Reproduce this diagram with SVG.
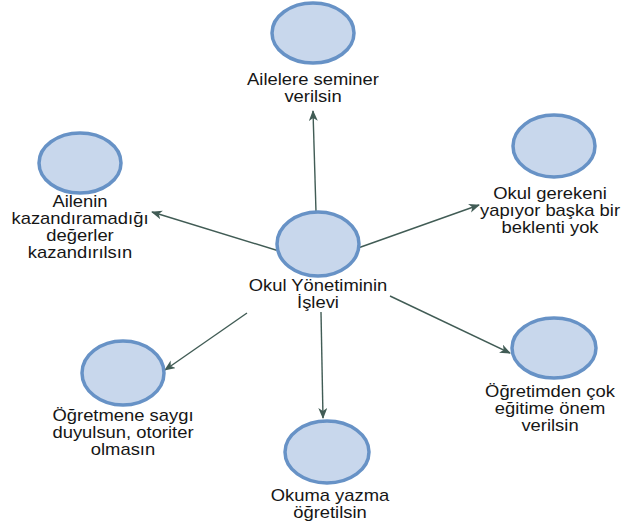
<svg xmlns="http://www.w3.org/2000/svg" width="624" height="526" viewBox="0 0 624 526">
<style>
.n{fill:#c8d7ec;stroke:#6792c6;stroke-width:3.5}
.t{font-family:"Liberation Sans",Arial,sans-serif;font-size:16px;fill:#161616;text-anchor:middle}
.c{stroke:#415c55;stroke-width:1.4;fill:none;marker-end:url(#ah)}
</style>
<defs>
<marker id="ah" markerUnits="userSpaceOnUse" markerWidth="12" markerHeight="10" refX="10" refY="4.5" orient="auto">
<path d="M0,0 L11,4.5 L0,9 L3,4.5 z" fill="#415c55"/>
</marker>
</defs>
<rect width="624" height="526" fill="#ffffff"/>
<g id="connectors">
<line class="c" x1="316" y1="212" x2="313" y2="111"/>
<line class="c" x1="279" y1="251" x2="152" y2="212"/>
<line class="c" x1="358" y1="248" x2="479" y2="205"/>
<line class="c" x1="247" y1="313" x2="165" y2="370"/>
<line class="c" x1="390" y1="296" x2="510" y2="353"/>
<line class="c" x1="321" y1="312" x2="323" y2="418"/>
</g>
<g id="center">
<ellipse class="n" cx="318" cy="244" rx="41" ry="32"/>
<g transform="translate(318,0) scale(1.15,1)"><text class="t" x="0" y="291">Okul Yönetiminin</text><text class="t" x="0" y="308">İşlevi</text></g>
</g>
<g id="top">
<ellipse class="n" cx="313" cy="33" rx="41" ry="30"/>
<g transform="translate(313,0) scale(1.15,1)"><text class="t" x="0" y="85">Ailelere seminer</text><text class="t" x="0" y="102">verilsin</text></g>
</g>
<g id="left">
<ellipse class="n" cx="80" cy="163" rx="41" ry="30"/>
<g transform="translate(80,0) scale(1.15,1)"><text class="t" x="0" y="207">Ailenin</text><text class="t" x="0" y="224">kazandıramadığı</text><text class="t" x="0" y="241">değerler</text><text class="t" x="0" y="258">kazandırılsın</text></g>
</g>
<g id="right">
<ellipse class="n" cx="554" cy="146" rx="41" ry="31"/>
<g transform="translate(550,0) scale(1.15,1)"><text class="t" x="0" y="199">Okul gerekeni</text><text class="t" x="0" y="216">yapıyor başka bir</text><text class="t" x="0" y="233">beklenti yok</text></g>
</g>
<g id="bottomleft">
<ellipse class="n" cx="123" cy="373" rx="41" ry="32"/>
<g transform="translate(123,0) scale(1.15,1)"><text class="t" x="0" y="421">Öğretmene saygı</text><text class="t" x="0" y="438">duyulsun, otoriter</text><text class="t" x="0" y="455">olmasın</text></g>
</g>
<g id="bottomright">
<ellipse class="n" cx="554" cy="348" rx="42" ry="30"/>
<g transform="translate(550,0) scale(1.15,1)"><text class="t" x="0" y="397">Öğretimden çok</text><text class="t" x="0" y="414">eğitime önem</text><text class="t" x="0" y="431">verilsin</text></g>
</g>
<g id="bottom">
<ellipse class="n" cx="327" cy="452" rx="42" ry="31"/>
<g transform="translate(330,0) scale(1.15,1)"><text class="t" x="0" y="501">Okuma yazma</text><text class="t" x="0" y="518">öğretilsin</text></g>
</g>
</svg>
